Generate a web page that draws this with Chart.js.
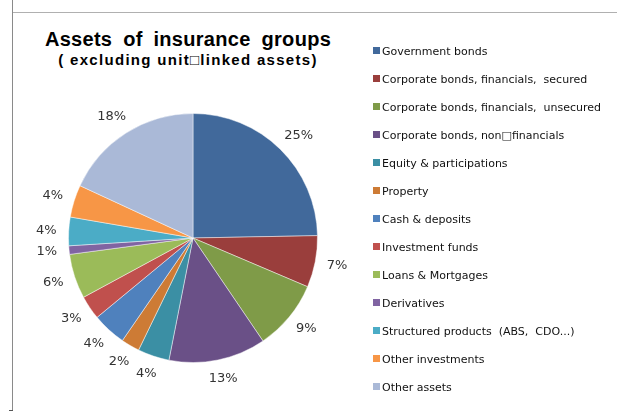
<!DOCTYPE html>
<html>
<head>
<meta charset="utf-8">
<script src="https://cdn.jsdelivr.net/npm/chart.js@4"></script>
<style>
  body { margin: 0; background: #fff; }
  #wrap { position: relative; width: 617px; height: 414px; overflow: hidden; }
  #pieChart { position: absolute; left: 0; top: 0; }
  .frame-left { position: absolute; left: 12px; top: 0; width: 1px; height: 411px; background: #8a8a8a; }
  .frame-top { position: absolute; left: 13px; top: 12px; width: 604px; height: 1px; background: #b0b0b0; }
  .frame-tick { position: absolute; left: 9px; top: 410px; width: 4px; height: 1px; background: #555; }
  .title { position: absolute; left: 0; width: 376px; text-align: center; font-family: "Liberation Sans", Arial, sans-serif; font-weight: bold; color: #000; white-space: pre; }
  #t1 { top: 28px; font-size: 20px; word-spacing: 5px; letter-spacing: 0.3px; }
  #t2 { top: 51px; font-size: 15px; letter-spacing: 1.3px; }
  #legend { position: absolute; left: 373px; top: 43px; font-family: "DejaVu Sans", Verdana, sans-serif; font-size: 11px; color: #111; }
  #legend div { height: 28px; line-height: 18px; white-space: pre; }
  #legend span { display: inline-block; width: 7px; height: 7px; margin-right: 2px; vertical-align: 1px; }
</style>
</head>
<body>
<div id="wrap">
  <div class="frame-left"></div>
  <div class="frame-top"></div>
  <div class="frame-tick"></div>
  <div class="title" id="t1">Assets of insurance groups</div>
  <div class="title" id="t2">( excluding unit□linked assets)</div>
  <canvas id="pieChart" width="617" height="414"></canvas>
  <div id="legend"></div>
</div>
<script>
// Assets of insurance groups
const categories = [
    'Government bonds',
    'Corporate bonds, financials,  secured',
    'Corporate bonds, financials,  unsecured',
    'Corporate bonds, non□financials',
    'Equity & participations',
    'Property',
    'Cash & deposits',
    'Investment funds',
    'Loans & Mortgages',
    'Derivatives',
    'Structured products  (ABS,  CDO...)',
    'Other investments',
    'Other assets'
];
// shares in %
const shares = [24.7, 6.7, 9.1, 12.6, 4.1, 2.4, 4.4, 3.1, 5.8, 1.1, 3.7, 4.2, 18.1];
const colors = [
    '#41699b', '#9a3e3c', '#7f9b48', '#6a5087', '#3b8fa4', '#cd7b35', '#4f81bd',
    '#c0504d', '#9bbb59', '#8064a2', '#4bacc6', '#f79646', '#aab9d7'
];

// legend built from the same arrays
const legendEl = document.getElementById('legend');
categories.forEach(function(name, i) {
    const row = document.createElement('div');
    const box = document.createElement('span');
    box.style.background = colors[i];
    row.appendChild(box);
    row.appendChild(document.createTextNode(name));
    legendEl.appendChild(row);
});

// percentage labels outside the slices
const outsideLabels = {
    id: 'outsideLabels',
    afterDatasetsDraw: function(chart) {
        const c = chart.ctx;
        const meta = chart.getDatasetMeta(0);
        const total = shares.reduce(function(a, b) { return a + b; }, 0);
        c.save();
        c.font = '13px "DejaVu Sans", Verdana, sans-serif';
        c.fillStyle = '#333';
        c.textAlign = 'center';
        c.textBaseline = 'middle';
        meta.data.forEach(function(arc, i) {
            const mid = (arc.startAngle + arc.endAngle) / 2;
            const pct = Math.round(shares[i] / total * 100) + '%';
            const hw = c.measureText(pct).width / 2;
            const hh = 7;
            const r = arc.outerRadius + 12;
            const x = arc.x + Math.cos(mid) * r + Math.cos(mid) * hw;
            const y = arc.y + Math.sin(mid) * r + Math.sin(mid) * hh;
            c.fillText(pct, x, y);
        });
        c.restore();
    }
};

new Chart(document.getElementById('pieChart'), {
    type: 'pie',
    data: {
        labels: categories,
        datasets: [{
            data: shares,
            backgroundColor: colors,
            borderColor: 'rgba(255,255,255,0.45)',
            borderWidth: 1
        }]
    },
    options: {
        responsive: false,
        animation: false,
        layout: {
            padding: { left: 68, right: 299, top: 113, bottom: 51 }
        },
        plugins: {
            legend: { display: false },
            title: { display: false },
            tooltip: { enabled: false }
        }
    },
    plugins: [outsideLabels]
});
</script>
</body>
</html>
